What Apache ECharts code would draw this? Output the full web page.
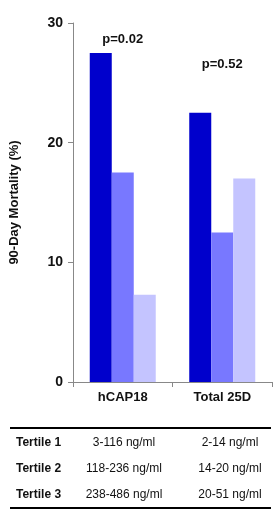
<!DOCTYPE html>
<html>
<head>
    <meta charset="UTF-8">
    <title>90-Day Mortality</title>
    <script src="https://cdn.jsdelivr.net/npm/echarts@6/dist/echarts.min.js"></script>
    <style>
        html, body { margin: 0; padding: 0; background: #fff; }
    </style>
</head>
<body>
    <div id="main" style="width: 273px;height:514px;"></div>
    <script type="text/javascript">
        // data
        var categories = ['hCAP18', 'Total 25D'];
        var tertile1 = [27.5, 22.5];
        var tertile2 = [17.5, 12.5];
        var tertile3 = [7.3, 17.0];
        var pLabels = ['p=0.02', 'p=0.52'];
        var pHeights = [28.6, 26.5];   // where the p labels sit, in axis units
        var yTicks = [0, 10, 20, 30];

        // table under the chart
        var tertileNames = ['Tertile 1', 'Tertile 2', 'Tertile 3'];
        var hcapRanges = ['3-116 ng/ml', '118-236 ng/ml', '238-486 ng/ml'];
        var d25Ranges = ['2-14 ng/ml', '14-20 ng/ml', '20-51 ng/ml'];

        var font = 'Liberation Sans, Arial, sans-serif';
        var myChart = echarts.init(document.getElementById('main'));

        // table text + rules
        var tableItems = [];
        var rowY = [443, 469, 495];
        tertileNames.forEach(function (name, i) {
            tableItems.push({
                type: 'text', x: 16, y: rowY[i],
                style: { text: name, font: 'bold 12px ' + font, fill: '#111', align: 'left', verticalAlign: 'middle' }
            });
            tableItems.push({
                type: 'text', x: 124, y: rowY[i],
                style: { text: hcapRanges[i], font: '12px ' + font, fill: '#111', align: 'center', verticalAlign: 'middle' }
            });
            tableItems.push({
                type: 'text', x: 230, y: rowY[i],
                style: { text: d25Ranges[i], font: '12px ' + font, fill: '#111', align: 'center', verticalAlign: 'middle' }
            });
        });
        tableItems.push({ type: 'line', shape: { x1: 10, y1: 428, x2: 271, y2: 428 }, style: { stroke: '#000', lineWidth: 2 } });
        tableItems.push({ type: 'line', shape: { x1: 10, y1: 508, x2: 271, y2: 508 }, style: { stroke: '#000', lineWidth: 2 } });

        var option = {
            animation: false,
            grid: { left: 72, right: 1, top: 23, bottom: 132 },
            xAxis: {
                type: 'category',
                data: categories,
                axisLine: { lineStyle: { color: '#888', width: 1 } },
                axisTick: { show: true, length: 5, lineStyle: { color: '#888' } },
                axisLabel: { color: '#111', fontWeight: 'bold', fontSize: 13, fontFamily: font, margin: 9 }
            },
            yAxis: {
                type: 'value',
                min: yTicks[0],
                max: yTicks[yTicks.length - 1],
                interval: 10,
                name: '90-Day Mortality (%)',
                nameLocation: 'middle',
                nameGap: 52,
                nameRotate: 90,
                nameTextStyle: { color: '#111', fontWeight: 'bold', fontSize: 13, fontFamily: font },
                axisLine: { show: true, lineStyle: { color: '#888', width: 1 } },
                axisTick: { show: true, length: 5, lineStyle: { color: '#888' } },
                splitLine: { show: false },
                axisLabel: { color: '#111', fontWeight: 'bold', fontSize: 14, fontFamily: font, margin: 10 }
            },
            series: [
                { type: 'bar', data: tertile1, barWidth: 22, barGap: '0%', itemStyle: { color: '#0000CC' } },
                { type: 'bar', data: tertile2, barWidth: 22, barGap: '0%', itemStyle: { color: '#7878FF' } },
                { type: 'bar', data: tertile3, barWidth: 22, barGap: '0%', itemStyle: { color: '#C4C4FF' } },
                {
                    type: 'scatter',
                    symbolSize: 0,
                    silent: true,
                    itemStyle: { opacity: 1 },
                    data: pHeights.map(function (v, i) { return [i, v]; }),
                    label: {
                        show: true,
                        position: 'inside',
                        formatter: function (p) { return pLabels[p.dataIndex]; },
                        color: '#111', fontWeight: 'bold', fontSize: 13, fontFamily: font
                    }
                }
            ],
            graphic: tableItems
        };

        myChart.setOption(option);
    </script>
</body>
</html>
